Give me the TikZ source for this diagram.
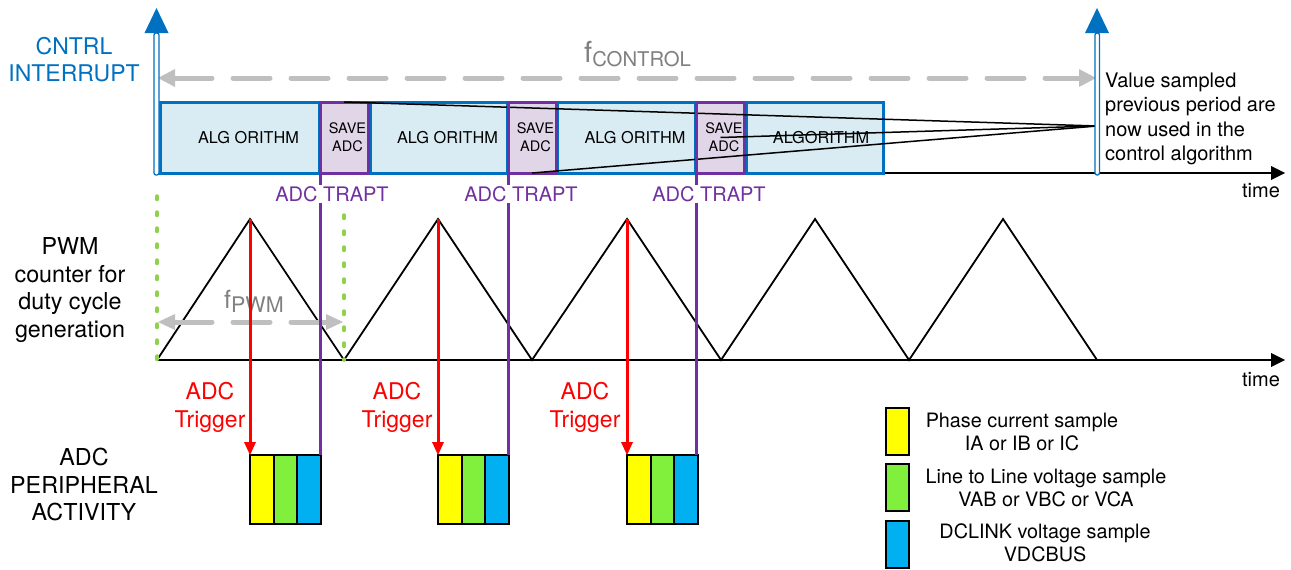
\documentclass[tikz,border=0pt]{standalone}
\usepackage{fontspec}
\setmainfont{TeX Gyre Heros}
\usepackage{xcolor}
\usepackage{tikz}
\usetikzlibrary{arrows.meta, positioning, calc}

\definecolor{ctblue}{RGB}{0,112,192}
\definecolor{algfill}{RGB}{218,236,243}
\definecolor{trpurple}{RGB}{112,48,160}
\definecolor{savefill}{RGB}{225,214,232}
\definecolor{pergray}{RGB}{191,191,191}
\definecolor{lblgray}{RGB}{128,128,128}
\definecolor{pwmgreen}{RGB}{146,208,80}
\definecolor{smpyellow}{RGB}{255,255,0}
\definecolor{smpgreen}{RGB}{128,240,60}
\definecolor{smpcyan}{RGB}{0,176,240}

\newcommand{\setfs}[2]{\fontsize{#1}{#2}\selectfont}

\begin{document}
\begin{tikzpicture}[
    x=1pt, y=-1pt,
    algbox/.style={rectangle, draw=ctblue, fill=algfill, line width=3pt, minimum height=71pt, inner sep=0pt, outer sep=0pt, font=\setfs{16.3}{19}},
    savebox/.style={rectangle, draw=trpurple, fill=savefill, line width=3pt, minimum height=71pt, minimum width=48pt, inner sep=0pt, outer sep=0pt, align=center, font=\setfs{14.5}{18}},
    cell/.style={rectangle, draw=black, line width=2pt, minimum width=23.5pt, minimum height=69pt, inner sep=0pt, outer sep=0pt},
    axis/.style={line width=2pt, -{Triangle[length=14pt,width=14pt,line width=0pt]}},
    period/.style={pergray, line width=5pt, line cap=round, dash pattern=on 37pt off 21pt, {Triangle[length=17pt,width=18pt,line width=0pt]}-{Triangle[length=17pt,width=18pt,line width=0pt]}},
    irqshaft/.style={draw=ctblue, fill=white, line width=1.3pt, rounded corners=2pt},
    feed/.style={line width=1.5pt},
    counter/.style={line width=1.8pt, line join=miter},
    sync/.style={pwmgreen, line width=3.5pt, line cap=round, dash pattern=on 3.5pt off 12.5pt},
    trapt/.style={trpurple, line width=3pt},
    trig/.style={red, line width=3pt, -{Triangle[length=13pt,width=12pt,line width=0pt]}},
    traptlbl/.style={text=trpurple, fill=white, inner sep=1pt, font=\setfs{20}{24}},
    triglbl/.style={text=red, align=center, font=\setfs{23}{28}},
    sidelbl/.style={align=center, font=\setfs{23.3}{27.5}},
    leglbl/.style={align=center, font=\setfs{19.8}{23}},
    timelbl/.style={font=\setfs{20}{22}}
]
\useasboundingbox (0,0) rectangle (1291,570);

% control period
\coordinate (ctl_l) at (158,78);
\coordinate (ctl_r) at (1096,78);
\draw[period] (ctl_l) -- (ctl_r);
\node[text=lblgray, anchor=base west, inner sep=0pt, font=\setfs{29}{32}] (f_ctl) at (584,62.7) {f\raisebox{-4pt}{\setfs{20.3}{24}CONTROL}};
\node[text=ctblue, align=center, font=\setfs{23}{27}] (irq_lbl) at (74,60) {CNTRL\\INTERRUPT};

% top time axis
\coordinate (t_top0) at (156,173);
\coordinate (t_top1) at (1285,173);
\draw[axis] (t_top0) -- (t_top1);
\node[timelbl] (time_top) at (1261,191) {time};

% control task boxes
\node[algbox, minimum width=159pt] (alg_1) at (239.5,137.5) {\hspace*{18pt}ALG ORITHM};
\node[algbox, minimum width=137pt] (alg_2) at (438.5,137.5) {\hspace*{18pt}ALG ORITHM};
\node[algbox, minimum width=138pt] (alg_3) at (626,137.5) {\hspace*{18pt}ALG ORITHM};
\node[algbox, minimum width=137pt] (alg_4) at (814.5,137.5) {\hspace*{13pt}ALGORITHM};
\node[savebox] (save_1) at (344,137.5) {\hspace*{7pt}SAVE\\\hspace*{7pt}ADC};
\node[savebox] (save_2) at (532,137.5) {\hspace*{7pt}SAVE\\\hspace*{7pt}ADC};
\node[savebox] (save_3) at (720.5,137.5) {\hspace*{7pt}SAVE\\\hspace*{7pt}ADC};

% values reused next period
\coordinate (reuse) at (1097,126);
\draw[feed] (save_1.north) -- (reuse);
\draw[feed] (save_3.center) -- (reuse);
\draw[feed] (save_2.south) -- (reuse);
\node[anchor=west, align=left, inner sep=0pt, font=\setfs{20}{24.3}] (reuse_txt) at (1105,119) {Value sampled\\previous period are\\now used in the\\control algorithm};

% interrupt arrows
\draw[irqshaft] (154,33) rectangle (159,175);
\fill[ctblue] (144.5,33) -- (156.5,8) -- (168.5,33) -- cycle;
\draw[irqshaft] (1095,33) rectangle (1099.5,175);
\fill[ctblue] (1085,33) -- (1097,8) -- (1109,33) -- cycle;

% PWM counter
\coordinate (vl_0) at (157,360);
\coordinate (pk_1) at (250,219);
\coordinate (vl_1) at (344,360);
\coordinate (pk_2) at (438,219);
\coordinate (vl_2) at (532,360);
\coordinate (pk_3) at (627,219);
\coordinate (vl_3) at (721,360);
\coordinate (pk_4) at (815,219);
\coordinate (vl_4) at (909,360);
\coordinate (pk_5) at (1003,219);
\coordinate (vl_5) at (1097,360);
\coordinate (t_bot1) at (1285,360);
\draw[counter] (vl_0) -- (pk_1) -- (vl_1) -- (pk_2) -- (vl_2) -- (pk_3) -- (vl_3) -- (pk_4) -- (vl_4) -- (pk_5) -- (vl_5);
\draw[axis] (vl_0) -- (t_bot1);
\node[timelbl] (time_bot) at (1261,380) {time};
\node[sidelbl] (pwm_lbl) at (70,290) {PWM\\counter for\\duty cycle\\generation};

% PWM period
\coordinate (sync_0) at (157,196);
\coordinate (sync_1) at (344,215);
\draw[sync] (sync_0) -- (vl_0);
\draw[sync] (sync_1) -- (vl_1);
\coordinate (pwm_l) at (158,322);
\coordinate (pwm_r) at (343,322);
\draw[period, {Triangle[length=17pt,width=16pt,line width=0pt]}-{Triangle[length=17pt,width=16pt,line width=0pt]}] (pwm_l) -- (pwm_r);
\node[text=lblgray, anchor=base west, inner sep=0pt, font=\setfs{25}{28}] (f_pwm) at (224,308.3) {f\raisebox{-4.4pt}{\setfs{21.5}{24}PWM}};

% ADC conversions
\node[cell, fill=smpyellow] (blk1_a) at (261.75,489.5) {};
\node[cell, fill=smpgreen] (blk1_b) at (285.25,489.5) {};
\node[cell, fill=smpcyan] (blk1_c) at (308.75,489.5) {};
\node[cell, fill=smpyellow] (blk2_a) at (449.75,489.5) {};
\node[cell, fill=smpgreen] (blk2_b) at (473.25,489.5) {};
\node[cell, fill=smpcyan] (blk2_c) at (496.75,489.5) {};
\node[cell, fill=smpyellow] (blk3_a) at (638.75,489.5) {};
\node[cell, fill=smpgreen] (blk3_b) at (662.25,489.5) {};
\node[cell, fill=smpcyan] (blk3_c) at (685.75,489.5) {};
\node[sidelbl] (adc_lbl) at (84,485) {ADC\\PERIPHERAL\\ACTIVITY};

% trapt lines
\draw[trapt] (save_1.north west) -- (save_1.north west |- blk1_c.north);
\draw[trapt] (save_2.north west) -- (save_2.north west |- blk2_c.north);
\draw[trapt] (save_3.north west) -- (save_3.north west |- blk3_c.north);
\node[traptlbl] (trapt_1) at (332,194) {ADC TRAPT};
\node[traptlbl] (trapt_2) at (521,194) {ADC TRAPT};
\node[traptlbl] (trapt_3) at (709,194) {ADC TRAPT};

% triggers
\draw[trig] (pk_1) -- (blk1_a.north west);
\draw[trig] (pk_2) -- (blk2_a.north west);
\draw[trig] (pk_3) -- (blk3_a.north west);
\node[triglbl] (trig_1) at (210,407) {ADC\\Trigger};
\node[triglbl] (trig_2) at (397,407) {ADC\\Trigger};
\node[triglbl] (trig_3) at (585,407) {ADC\\Trigger};

% legend
\node[cell, fill=smpyellow, minimum width=23pt, minimum height=47pt] (leg_a) at (897,431.5) {};
\node[cell, fill=smpgreen, minimum width=23pt, minimum height=47pt] (leg_b) at (897,487.5) {};
\node[cell, fill=smpcyan, minimum width=23pt, minimum height=47pt] (leg_c) at (897,544.5) {};
\node[leglbl] (leg_a_txt) at (1022,431.5) {Phase current sample\\IA or IB or IC};
\node[leglbl] (leg_b_txt) at (1046,488) {Line to Line voltage sample\\VAB or VBC or VCA};
\node[leglbl] (leg_c_txt) at (1045,542.5) {DCLINK voltage sample\\VDCBUS};

\end{tikzpicture}
\end{document}
